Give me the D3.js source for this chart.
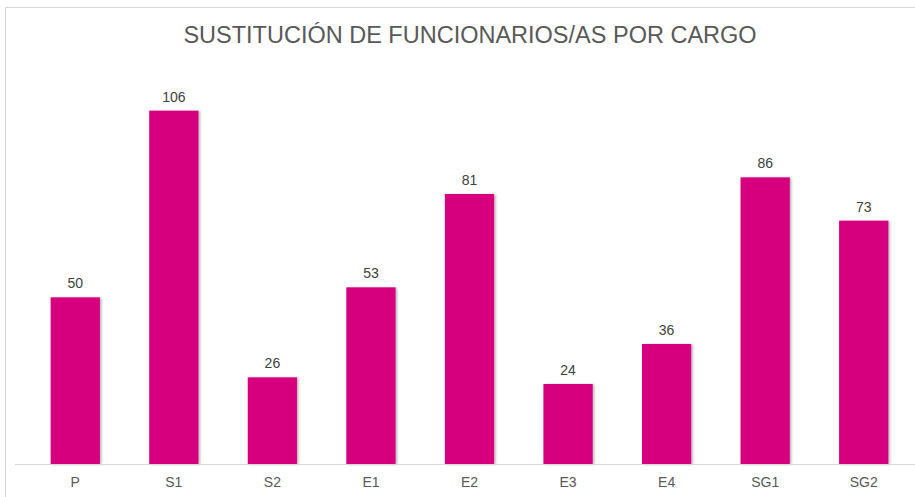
<!DOCTYPE html>
<html>
<head>
<meta charset="utf-8">
<script src="https://cdn.jsdelivr.net/npm/d3@7"></script>
<style>
  body { margin: 0; background: #fff; }
  text { font-family: "Liberation Sans", Arial, sans-serif; }
</style>
</head>
<body>
<svg width="915" height="497"></svg>
<script>
var cargos = ["P", "S1", "S2", "E1", "E2", "E3", "E4", "SG1", "SG2"];
var valores = [50, 106, 26, 53, 81, 24, 36, 86, 73];
var titulo = "SUSTITUCIÓN DE FUNCIONARIOS/AS POR CARGO";

var data = cargos.map(function(c, i) { return {cargo: c, valor: valores[i]}; });

var svg = d3.select("svg"),
    width = +svg.attr("width"),
    height = +svg.attr("height");

// marco del grafico
svg.append("path")
    .attr("d", "M5.5,497 V7.5 H915")
    .attr("fill", "none")
    .attr("stroke", "#d9d9d9");

svg.append("text")
    .attr("x", 470)
    .attr("y", 43)
    .attr("text-anchor", "middle")
    .attr("fill", "#595959")
    .style("font-size", "23.5px")
    .text(titulo);

var defs = svg.append("defs");
var f = defs.append("filter").attr("id", "sombra")
    .attr("x", "-10%").attr("y", "-10%").attr("width", "130%").attr("height", "120%");
f.append("feDropShadow")
    .attr("dx", 1.5).attr("dy", 0.5).attr("stdDeviation", 1)
    .attr("flood-color", "#000").attr("flood-opacity", 0.3);

var x = d3.scaleBand()
    .domain(cargos)
    .range([26, 913])
    .paddingInner(0.5)
    .paddingOuter(0.25);

var y = d3.scaleLinear()
    .domain([0, 120])
    .range([464, 64]);

svg.append("g")
    .selectAll("rect")
    .data(data)
    .enter().append("rect")
    .attr("x", function(d) { return x(d.cargo); })
    .attr("y", function(d) { return y(d.valor); })
    .attr("width", x.bandwidth())
    .attr("height", function(d) { return y(0) - y(d.valor); })
    .attr("fill", "#d6007f")
    .attr("filter", "url(#sombra)");

svg.append("line")
    .attr("x1", 15).attr("x2", width)
    .attr("y1", y(0) + 0.5).attr("y2", y(0) + 0.5)
    .attr("stroke", "#d9d9d9");

svg.append("g")
    .selectAll("text")
    .data(data)
    .enter().append("text")
    .attr("x", function(d) { return x(d.cargo) + x.bandwidth() / 2; })
    .attr("y", function(d) { return y(d.valor) - 9; })
    .attr("text-anchor", "middle")
    .attr("fill", "#404040")
    .style("font-size", "14px")
    .text(function(d) { return d.valor; });

var xAxis = svg.append("g")
    .attr("transform", "translate(0," + y(0) + ")")
    .call(d3.axisBottom(x).tickSize(0).tickPadding(13));
xAxis.select(".domain").remove();
xAxis.selectAll("text")
    .attr("fill", "#595959")
    .style("font-size", "14px")
    .style("font-family", "\"Liberation Sans\", Arial, sans-serif");
</script>
</body>
</html>
